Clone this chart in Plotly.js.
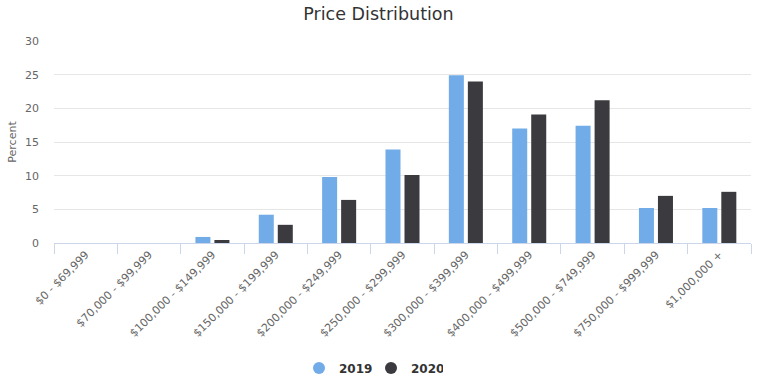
<!DOCTYPE html>
<html>
<head>
<meta charset="utf-8">
<script src="https://cdn.plot.ly/plotly-3.0.1.min.js"></script>
<style>html,body{margin:0;padding:0;background:#fff;}#chart{width:757px;height:383px;}</style>
</head>
<body>
<div id="chart"></div>
<script>
var categories = ["$0 - $69,999", "$70,000 - $99,999", "$100,000 - $149,999", "$150,000 - $199,999", "$200,000 - $249,999", "$250,000 - $299,999", "$300,000 - $399,999", "$400,000 - $499,999", "$500,000 - $749,999", "$750,000 - $999,999", "$1,000,000 +"];
var values2019 = [0, 0, 0.9, 4.2, 9.8, 13.9, 24.9, 17.0, 17.4, 5.2, 5.2];
var values2020 = [0, 0, 0.45, 2.7, 6.4, 10.1, 24.0, 19.1, 21.2, 7.0, 7.6];
var seriesNames = ["2019", "2020"];
var colors = ["#72ace8", "#3a3a3f"];

var FONT = "DejaVu Sans, sans-serif";
var traces = [
  {type: "bar", x: categories, y: values2019, name: seriesNames[0], marker: {color: colors[0]}, showlegend: false, hoverinfo: "x+y"},
  {type: "bar", x: categories, y: values2020, name: seriesNames[1], marker: {color: colors[1]}, showlegend: false, hoverinfo: "x+y"},
  {type: "scatter", mode: "markers", x: [null], y: [null], name: seriesNames[0], marker: {color: colors[0], size: 12, symbol: "circle"}},
  {type: "scatter", mode: "markers", x: [null], y: [null], name: seriesNames[1], marker: {color: colors[1], size: 12, symbol: "circle"}}
];

var layout = {
  width: 757, height: 383,
  margin: {l: 54, r: 6, t: 41, b: 140},
  paper_bgcolor: "#fff", plot_bgcolor: "#fff",
  font: {family: FONT, color: "#666", size: 11},
  title: {text: "Price Distribution", font: {family: FONT, size: 17.5, color: "#333"}, x: 0.5, xanchor: "center", y: 0.963, yanchor: "middle"},
  barmode: "group", bargap: 0.4, bargroupgap: 0.21,
  xaxis: {
    type: "category", tickangle: -45, tickson: "boundaries", ticks: "outside", ticklen: 10, tickcolor: "#ccd6eb", tickwidth: 1,
    showline: true, linecolor: "#ccd6eb", linewidth: 1, showgrid: false, zeroline: false, automargin: false,
    tickfont: {family: FONT, size: 11, color: "#666"}, fixedrange: true
  },
  yaxis: {
    range: [0, 30], dtick: 5, tick0: 0, showgrid: true, gridcolor: "#e6e6e6", gridwidth: 1, zeroline: false, showline: false, automargin: false,
    ticks: "", tickfont: {family: FONT, size: 11, color: "#666"}, ticklabelstandoff: 14,
    title: {text: "Percent", font: {family: FONT, size: 11, color: "#666"}, standoff: 6}, fixedrange: true
  },
  legend: {orientation: "h", xref: "container", yref: "container", x: 0.395, xanchor: "left", y: 0.039, yanchor: "middle",
    entrywidth: 27, entrywidthmode: "pixels",
    font: {family: FONT, size: 12, color: "#333", weight: "bold"}, itemsizing: "constant"},
  showlegend: true
};
Plotly.newPlot("chart", traces, layout, {displayModeBar: false, staticPlot: true});
</script>
</body>
</html>
